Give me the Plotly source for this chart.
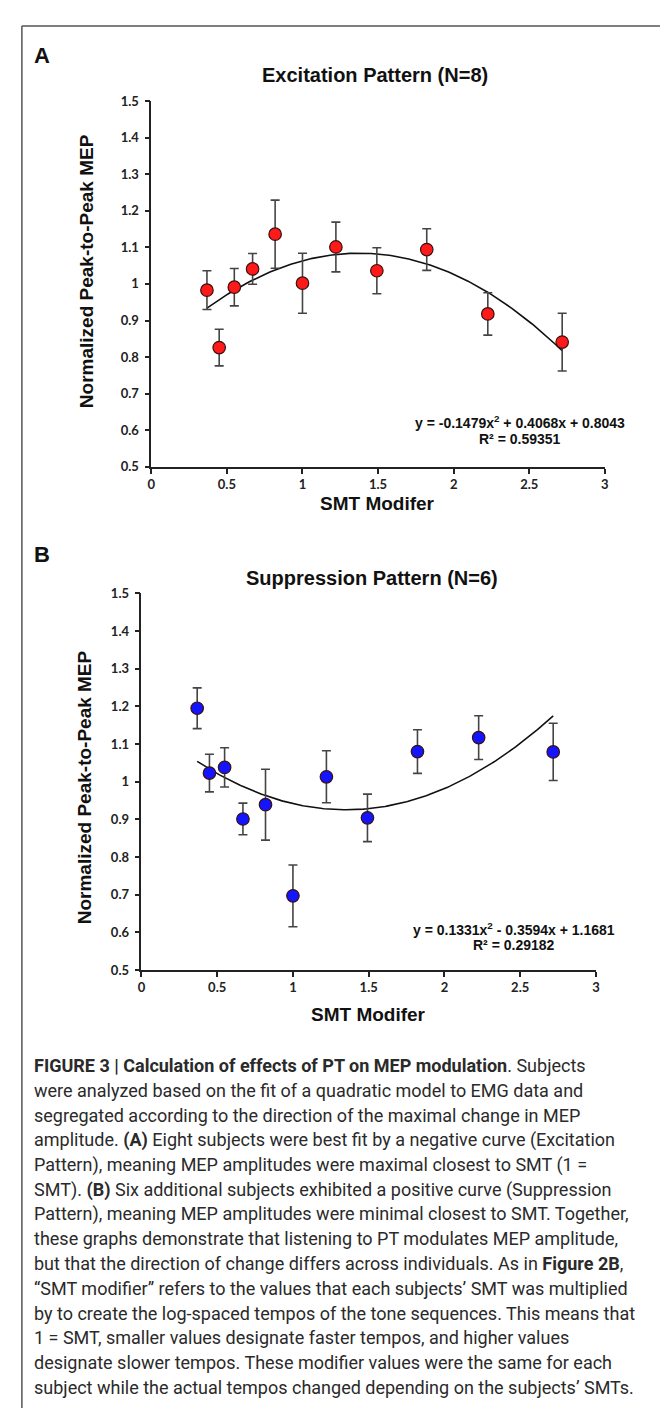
import numpy as np
import plotly.graph_objects as go

W, H = 668, 1408

# ---------------- data ----------------
smt_modifier = [0.368, 0.449, 0.549, 0.670, 0.819, 1.0, 1.221, 1.492, 1.822, 2.226, 2.718]

exc_mep = [0.983, 0.826, 0.991, 1.041, 1.136, 1.002, 1.101, 1.036, 1.094, 0.918, 0.841]
exc_err = [0.053, 0.050, 0.051, 0.042, 0.093, 0.082, 0.068, 0.063, 0.057, 0.058, 0.079]

sup_mep = [1.195, 1.023, 1.038, 0.901, 0.939, 0.697, 1.013, 0.904, 1.080, 1.117, 1.079]
sup_err = [0.054, 0.050, 0.052, 0.042, 0.094, 0.082, 0.069, 0.063, 0.058, 0.058, 0.076]

exc_coef = [-0.1479, 0.4068, 0.8043]   # a, b, c  (trendline)
sup_coef = [0.1331, -0.3594, 1.1681]

x_ticks = [0, 0.5, 1, 1.5, 2, 2.5, 3]
x_ticklabels = ["0", "0.5", "1", "1.5", "2", "2.5", "3"]
y_ticks = [0.5, 0.6, 0.7, 0.8, 0.9, 1.0, 1.1, 1.2, 1.3, 1.4, 1.5]
y_ticklabels = ["0.5", "0.6", "0.7", "0.8", "0.9", "1", "1.1", "1.2", "1.3", "1.4", "1.5"]

caption_lines = [
    "<b>FIGURE 3 | Calculation of effects of PT on MEP modulation</b>. Subjects",
    "were analyzed based on the fit of a quadratic model to EMG data and",
    "segregated according to the direction of the maximal change in MEP",
    "amplitude. <b>(A)</b> Eight subjects were best fit by a negative curve (Excitation",
    "Pattern), meaning MEP amplitudes were maximal closest to SMT (1 =",
    "SMT). <b>(B)</b> Six additional subjects exhibited a positive curve (Suppression",
    "Pattern), meaning MEP amplitudes were minimal closest to SMT. Together,",
    "these graphs demonstrate that listening to PT modulates MEP amplitude,",
    "but that the direction of change differs across individuals. As in <b>Figure 2B</b>,",
    "\u201cSMT modifier\u201d refers to the values that each subjects\u2019 SMT was multiplied",
    "by to create the log-spaced tempos of the tone sequences. This means that",
    "1 = SMT, smaller values designate faster tempos, and higher values",
    "designate slower tempos. These modifier values were the same for each",
    "subject while the actual tempos changed depending on the subjects\u2019 SMTs.",
]

# ---------------- helpers ----------------
def px(x):
    return x / W

def py(y):
    return 1 - y / H

AX_FONT = "Liberation Sans, Arial, sans-serif"
TICK_FONT = "Lato, Liberation Sans, sans-serif"

fig = go.Figure()

def trend(coef, xs):
    xx = np.linspace(min(xs), max(xs), 200)
    return xx, coef[0] * xx ** 2 + coef[1] * xx + coef[2]

panels = [
    dict(xa="x", ya="y", mep=exc_mep, err=exc_err, coef=exc_coef, color="#ff1a1a"),
    dict(xa="x2", ya="y2", mep=sup_mep, err=sup_err, coef=sup_coef, color="#1414ff"),
]

for p in panels:
    tx, ty = trend(p["coef"], smt_modifier)
    fig.add_trace(go.Scatter(
        x=tx, y=ty, mode="lines", line=dict(color="#111111", width=1.6),
        xaxis=p["xa"], yaxis=p["ya"], showlegend=False, hoverinfo="skip"))
    fig.add_trace(go.Scatter(
        x=smt_modifier, y=p["mep"], mode="markers",
        error_y=dict(type="data", array=p["err"], visible=True,
                     color="#444444", thickness=1.6, width=4.5),
        marker=dict(size=12.5, color=p["color"], line=dict(color="#3a1010", width=1.2)),
        xaxis=p["xa"], yaxis=p["ya"], showlegend=False))

# plot areas in pixels
A_box = dict(x0=141, x1=600, y0=86, y1=456)
B_box = dict(x0=131, x1=591, y0=584, y1=965)

def xaxis_cfg(box, anchor):
    return dict(domain=[px(box["x0"]), px(box["x1"])], range=[0, 3], anchor=anchor,
                tickvals=x_ticks, ticktext=x_ticklabels, ticks="outside", ticklen=5,
                tickwidth=1.5, tickcolor="#222", showline=True, linecolor="#222",
                linewidth=1.6, showgrid=False, zeroline=False,
                tickfont=dict(family=TICK_FONT, size=13, color="#222", weight="bold"))

def yaxis_cfg(box, anchor):
    return dict(domain=[py(box["y1"]), py(box["y0"])], range=[0.5, 1.5], anchor=anchor,
                tickvals=y_ticks, ticktext=y_ticklabels, ticks="outside", ticklen=5,
                tickwidth=1.5, tickcolor="#222", showline=True, linecolor="#222",
                linewidth=1.6, showgrid=False, zeroline=False, ticklabelstandoff=3,
                tickfont=dict(family=TICK_FONT, size=13, color="#222", weight="bold"))

annotations = []

def ann(text, x, y, size, bold=True, angle=0, xanchor="center", color="#111", family=AX_FONT):
    annotations.append(dict(
        text=text, x=px(x), y=py(y), xref="paper", yref="paper", showarrow=False,
        xanchor=xanchor, yanchor="middle", textangle=angle,
        font=dict(family=family, size=size, color=color, weight="bold" if bold else "normal")))

# panel letters and titles
ann("A", 20, 40, 22, xanchor="left")
ann("B", 20, 545, 22, xanchor="left")
ann("Excitation Pattern (N=8)", 367, 60, 20)
ann("Suppression Pattern (N=6)", 364, 568, 20)

# axis titles
ann("Normalized Peak-to-Peak MEP", 75, 258, 19, angle=-90)
ann("SMT Modifer", 370, 493, 19)
ann("Normalized Peak-to-Peak MEP", 73, 780, 19, angle=-90)
ann("SMT Modifer", 361, 1010, 19)

# trendline equations
ann("y = -0.1479x<sup>2</sup> + 0.4068x + 0.8043", 514, 411, 14)
ann("R\u00b2 = 0.59351", 514, 428, 14)
ann("y = 0.1331x<sup>2</sup> - 0.3594x + 1.1681", 508, 923, 14)
ann("R\u00b2 = 0.29182", 508, 940, 14)

# caption
CAP_FONT = "Roboto, Liberation Sans Narrow, sans-serif"
for i, line in enumerate(caption_lines):
    ann(line, 20, 1062 + 25 * i, 18, bold=False, xanchor="left", color="#2a2a2a", family=CAP_FONT)

# frame
shapes = [
    dict(type="line", xref="paper", yref="paper", x0=px(10), x1=px(10), y0=0, y1=py(10),
         line=dict(color="#555", width=1.5)),
    dict(type="line", xref="paper", yref="paper", x0=px(10), x1=px(664), y0=py(10), y1=py(10),
         line=dict(color="#555", width=1.5)),
    dict(type="line", xref="paper", yref="paper", x0=px(664), x1=px(664), y0=0, y1=py(10),
         line=dict(color="#555", width=1.5)),
]

fig.update_layout(
    width=W, height=H, margin=dict(l=0, r=0, t=0, b=0),
    paper_bgcolor="white", plot_bgcolor="white",
    xaxis=xaxis_cfg(A_box, "y"), yaxis=yaxis_cfg(A_box, "x"),
    xaxis2=xaxis_cfg(B_box, "y2"), yaxis2=yaxis_cfg(B_box, "x2"),
    annotations=annotations, shapes=shapes,
)

fig.write_html("out.html")
